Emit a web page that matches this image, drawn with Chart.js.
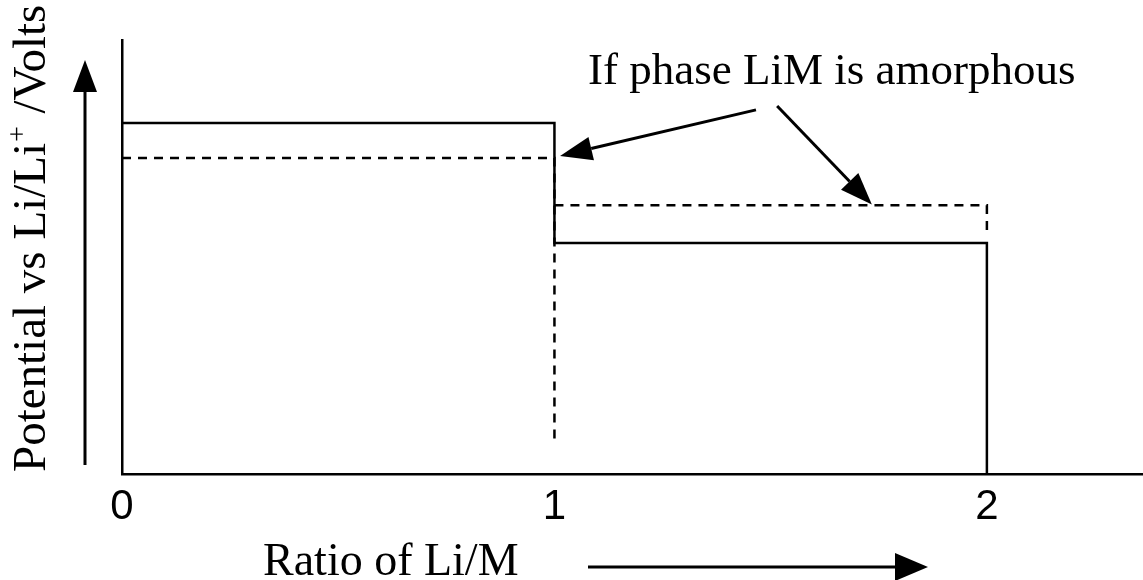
<!DOCTYPE html>
<html>
<head>
<meta charset="utf-8">
<script src="https://cdn.jsdelivr.net/npm/chart.js@4.4.1/dist/chart.umd.min.js"></script>
<style>
  html, body { margin: 0; padding: 0; background: #fff; }
  #wrap { width: 1143px; height: 580px; position: relative; }
</style>
</head>
<body>
<div id="wrap"><canvas id="chart"></canvas></div>
<script>
// Li/M ratio ticks
const ratioTicks = [0, 1, 2];

// crystalline LiM (solid line)
const crystX = [0, 1, 1, 2, 2];
const crystY = [0.809, 0.809, 0.532, 0.532, 0];

// amorphous LiM (dashed line), two pieces
const amorphX1 = [0, 1, 1];
const amorphY1 = [0.728, 0.728, 0.067];
const amorphX2 = [1, 2, 2];
const amorphY2 = [0.619, 0.619, 0.562];

// annotation arrows, [fromX, fromY, toX, toY] in data units
const noteArrows = [
  [1.466, 0.839, 1.013, 0.733],
  [1.515, 0.848, 1.734, 0.621]
];

const pts = (xs, ys) => xs.map((x, i) => ({ x: x, y: ys[i] }));

function arrow(ctx, x1, y1, x2, y2, headLen, headHalf, lw) {
  const a = Math.atan2(y2 - y1, x2 - x1);
  const bx = x2 - headLen * Math.cos(a), by = y2 - headLen * Math.sin(a);
  ctx.save();
  ctx.strokeStyle = "#000";
  ctx.fillStyle = "#000";
  ctx.lineWidth = lw;
  ctx.beginPath();
  ctx.moveTo(x1, y1);
  ctx.lineTo(bx, by);
  ctx.stroke();
  ctx.beginPath();
  ctx.moveTo(x2, y2);
  ctx.lineTo(bx + headHalf * Math.sin(a), by - headHalf * Math.cos(a));
  ctx.lineTo(bx - headHalf * Math.sin(a), by + headHalf * Math.cos(a));
  ctx.closePath();
  ctx.fill();
  ctx.restore();
}

const labels = {
  id: "labels",
  afterDraw(chart) {
    const ctx = chart.ctx;
    const xs = chart.scales.x, ys = chart.scales.y;
    const serif = '"Liberation Serif", "Times New Roman", serif';

    ctx.save();
    ctx.fillStyle = "#000";
    ctx.textBaseline = "alphabetic";

    // top note
    ctx.font = "45px " + serif;
    ctx.textAlign = "left";
    ctx.fillText("If phase LiM is amorphous", 588, 84);

    noteArrows.forEach(a => {
      arrow(ctx, xs.getPixelForValue(a[0]), ys.getPixelForValue(a[1]),
        xs.getPixelForValue(a[2]), ys.getPixelForValue(a[3]), 32, 12, 3);
    });

    // x title + arrow
    ctx.font = "46px " + serif;
    ctx.fillText("Ratio of Li/M", 263, 575);
    arrow(ctx, 588, 567, 928, 567, 33, 14, 3);

    // y title (rotated) + arrow
    ctx.save();
    ctx.translate(45, 472);
    ctx.rotate(-Math.PI / 2);
    ctx.font = "47px " + serif;
    let t = "Potential vs Li/Li";
    ctx.fillText(t, 0, 0);
    let w = ctx.measureText(t).width;
    ctx.font = "28px " + serif;
    ctx.fillText("+", w + 1, -19);
    w += ctx.measureText("+").width + 2;
    ctx.font = "47px " + serif;
    ctx.fillText(" /Volts", w, 0);
    ctx.restore();

    arrow(ctx, 85, 465, 85, 60, 32, 12, 3);
    ctx.restore();
  }
};

const line = (data, dash) => ({
  data: data,
  borderColor: "#000",
  borderWidth: 2.5,
  borderDash: dash,
  pointRadius: 0,
  tension: 0,
  fill: false
});

new Chart(document.getElementById("chart"), {
  type: "line",
  data: {
    datasets: [
      line(pts(crystX, crystY), []),
      line(pts(amorphX1, amorphY1), [9, 7]),
      line(pts(amorphX2, amorphY2), [9, 7])
    ]
  },
  options: {
    responsive: true,
    maintainAspectRatio: false,
    animation: false,
    layout: { padding: { left: 122, top: 40, right: 0, bottom: 0 } },
    plugins: { legend: { display: false }, tooltip: { enabled: false } },
    scales: {
      x: {
        type: "linear",
        min: 0,
        max: 2.361,
        afterBuildTicks: s => { s.ticks = ratioTicks.map(v => ({ value: v })); },
        afterFit: s => { s.height = 106; },
        grid: { display: false, drawTicks: false },
        border: { display: true, color: "#000", width: 2.5 },
        ticks: {
          color: "#000",
          padding: 8,
          maxRotation: 0,
          font: { family: '"Liberation Sans", Arial, sans-serif', size: 42 }
        }
      },
      y: {
        type: "linear",
        min: 0,
        max: 1,
        afterFit: s => { s.width = 0; },
        grid: { display: false, drawTicks: false },
        border: { display: true, color: "#000", width: 2.5 },
        ticks: { display: false }
      }
    }
  },
  plugins: [labels]
});
</script>
</body>
</html>
